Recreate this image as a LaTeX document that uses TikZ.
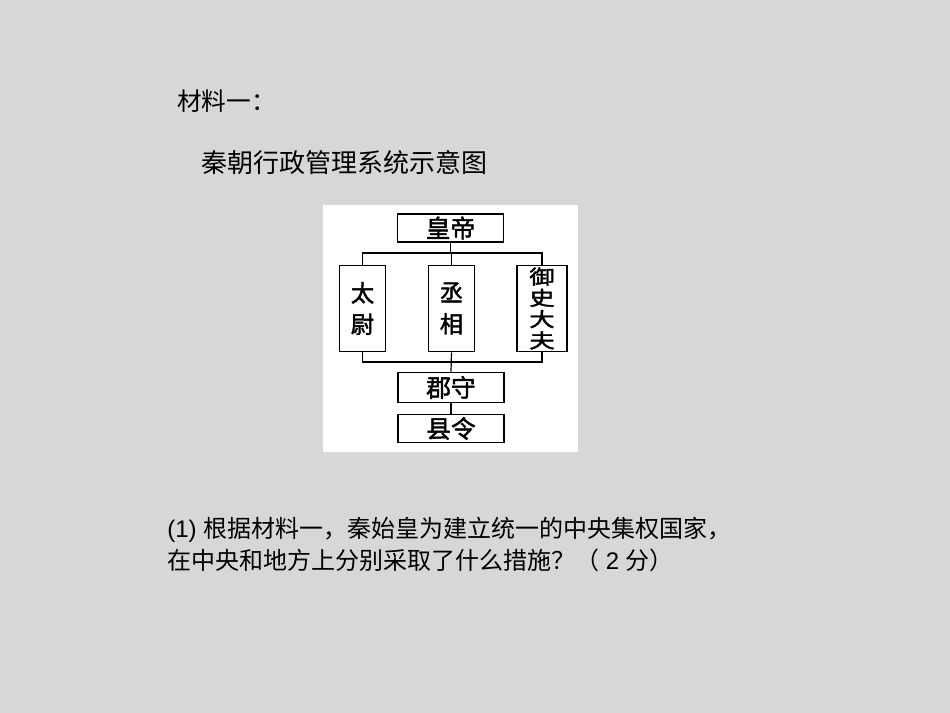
\documentclass[tikz,border=0pt]{standalone}
\usepackage{fontspec}
\setmainfont{Liberation Sans}
\newfontfamily\cjk{Noto Sans CJK SC}
\newfontfamily\cjkbold[FakeBold=1.8]{Noto Sans CJK SC}
\definecolor{slide}{RGB}{215,215,215}
\tikzset{
  office/.style={draw, line width=0.9pt, fill=white, inner sep=0pt, align=center,
    font=\cjkbold\fontsize{18.5}{18.5}\selectfont},
  wire/.style={line width=0.9pt},
  caption/.style={anchor=west, inner sep=0pt}
}

\begin{document}
\begin{tikzpicture}[x=0.75pt,y=-0.75pt]
    \fill[slide] (0,0) rectangle (950,713);
    \fill[white] (323,205) rectangle (578,452);
    \node[caption, font=\cjk\fontsize{18.5}{18.5}\selectfont] (material) at (177,101) {材料一：};
    \node[caption, font=\cjk\fontsize{19.5}{19.5}\selectfont] (title) at (201,163) {秦朝行政管理系统示意图};
    % offices
    \node[office, minimum width=80pt, minimum height=21pt] (emperor) at (450.5,228) {皇帝};
    \node[office, minimum width=35pt, minimum height=65pt,
        font=\cjkbold\fontsize{17.5}{17.5}\selectfont] (taiwei) at (362.5,308.5) {太\\[6pt]尉};
    \node[office, minimum width=35pt, minimum height=65pt,
        font=\cjkbold\fontsize{17.5}{17.5}\selectfont] (chengxiang) at (451.5,308.5) {丞\\[6pt]相};
    \node[office, minimum width=37.5pt, minimum height=65pt,
        font=\cjkbold\fontsize{19}{19}\selectfont] (yushi) at (542,308.5)
      {\scalebox{1}[0.78]{\shortstack{御\\史\\大\\夫}}};
    \node[office, minimum width=79.5pt, minimum height=23pt] (junshou) at (451,387.5) {郡守};
    \node[office, minimum width=79.5pt, minimum height=21.5pt] (xianling) at (451,428.5) {县令};
    \coordinate (upperbus) at (450.5,253);
    \coordinate (lowerbus) at (451.5,362);
    \draw[wire] (emperor.south) -- (upperbus);
    \draw[wire] (taiwei.north) |- (upperbus) -| (yushi.north);
    \draw[wire] (chengxiang.north) -- (chengxiang.north |- upperbus);
    \draw[wire] (taiwei.south) |- (lowerbus) -| (yushi.south);
    \draw[wire] (chengxiang.south) -- (junshou.north);
    \draw[wire] (junshou.south) -- (xianling.north);
    % question
    \node[caption, font=\fontsize{18}{18}\selectfont] (qone) at (167,530)
      {(1) {\cjk 根据材料一，秦始皇为建立统一的中央集权国家，}};
    \node[caption, font=\fontsize{18}{18}\selectfont] (qtwo) at (167,560)
      {{\cjk 在中央和地方上分别采取了什么措施？（} 2 {\cjk 分）}};
\end{tikzpicture}
\end{document}
